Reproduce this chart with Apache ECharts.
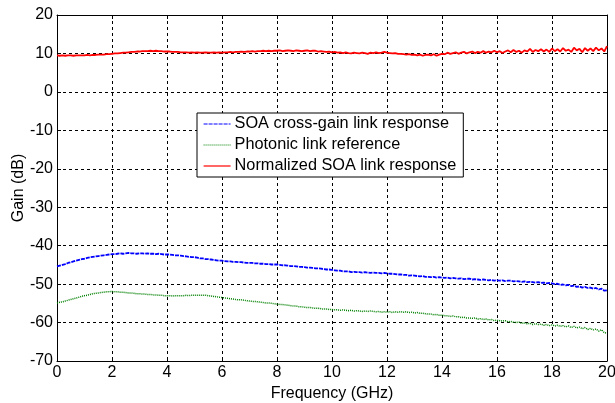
<!DOCTYPE html>
<html>
<head>
<meta charset="utf-8">
<script src="https://cdn.jsdelivr.net/npm/echarts@6/dist/echarts.min.js"></script>
<style>
html,body{margin:0;padding:0;background:#fff;}
#chart{width:615px;height:403px;}
</style>
</head>
<body>
<div id="chart"></div>
<script>
// Sampling grid: 0 to 20 GHz, 0.1 GHz step (201 samples per series)
const freqStart = 0, freqStep = 0.1, freqCount = 201;

const seriesNames = ['SOA cross-gain link response', 'Photonic link reference', 'Normalized SOA link response'];

const xTicks = [0, 2, 4, 6, 8, 10, 12, 14, 16, 18, 20];
const yTicks = [-70, -60, -50, -40, -30, -20, -10, 0, 10, 20];

const soaCrossGain = [
-45.4,-45.2,-45.0,-44.8,-44.5,-44.3,-44.1,-43.9,-43.7,-43.5,
-43.4,-43.2,-43.0,-42.9,-42.8,-42.7,-42.6,-42.5,-42.4,-42.3,
-42.2,-42.2,-42.1,-42.0,-42.1,-42.0,-41.9,-42.0,-42.0,-42.1,
-42.0,-42.0,-42.1,-42.0,-42.1,-42.1,-42.2,-42.1,-42.2,-42.3,
-42.3,-42.3,-42.4,-42.5,-42.5,-42.6,-42.7,-42.8,-42.9,-43.0,
-43.0,-43.1,-43.3,-43.3,-43.5,-43.5,-43.6,-43.7,-43.8,-43.9,
-43.9,-44.0,-44.1,-44.1,-44.2,-44.2,-44.3,-44.3,-44.4,-44.5,
-44.5,-44.5,-44.6,-44.6,-44.7,-44.7,-44.8,-44.8,-44.9,-44.9,
-44.9,-45.0,-45.1,-45.1,-45.2,-45.3,-45.3,-45.4,-45.5,-45.5,
-45.6,-45.7,-45.7,-45.8,-45.9,-45.9,-46.0,-46.1,-46.2,-46.2,
-46.3,-46.4,-46.5,-46.5,-46.7,-46.7,-46.7,-46.9,-46.8,-46.9,
-46.9,-47.0,-46.9,-47.0,-47.1,-47.0,-47.1,-47.1,-47.2,-47.1,
-47.2,-47.3,-47.3,-47.4,-47.5,-47.5,-47.6,-47.6,-47.8,-47.7,
-47.8,-47.9,-48.0,-47.9,-48.1,-48.1,-48.2,-48.1,-48.3,-48.2,
-48.3,-48.4,-48.3,-48.5,-48.4,-48.5,-48.6,-48.5,-48.7,-48.6,
-48.6,-48.8,-48.7,-48.8,-48.9,-48.8,-48.9,-49.0,-48.9,-49.1,
-49.0,-49.1,-49.0,-49.2,-49.1,-49.1,-49.3,-49.2,-49.3,-49.4,
-49.3,-49.5,-49.4,-49.5,-49.6,-49.5,-49.7,-49.6,-49.8,-49.7,
-49.8,-50.0,-49.9,-50.2,-50.1,-50.3,-50.2,-50.5,-50.4,-50.7,
-50.6,-50.9,-50.7,-51.0,-50.9,-51.2,-51.0,-51.4,-51.2,-51.7,
-51.6
];

const photonicReference = [
-54.9,-54.7,-54.6,-54.4,-54.2,-54.0,-53.8,-53.6,-53.4,-53.2,
-53.0,-52.9,-52.7,-52.5,-52.4,-52.3,-52.2,-52.1,-52.0,-52.0,
-51.9,-52.0,-52.0,-52.1,-52.1,-52.2,-52.3,-52.3,-52.4,-52.5,
-52.5,-52.6,-52.6,-52.7,-52.7,-52.8,-52.8,-52.9,-52.9,-53.0,
-53.0,-53.0,-53.1,-53.0,-53.0,-53.0,-53.0,-52.9,-53.0,-52.9,
-52.9,-52.9,-52.9,-52.9,-52.9,-53.0,-53.1,-53.2,-53.3,-53.4,
-53.5,-53.6,-53.7,-53.8,-53.9,-54.0,-54.1,-54.1,-54.2,-54.3,
-54.4,-54.5,-54.5,-54.6,-54.7,-54.8,-54.9,-54.9,-55.0,-55.1,
-55.2,-55.3,-55.3,-55.4,-55.5,-55.6,-55.7,-55.7,-55.9,-55.9,
-56.0,-56.1,-56.1,-56.2,-56.3,-56.3,-56.4,-56.5,-56.5,-56.6,
-56.6,-56.7,-56.7,-56.8,-56.7,-56.8,-56.9,-56.8,-57.0,-56.9,
-57.0,-57.1,-57.0,-57.1,-57.0,-57.1,-57.2,-57.1,-57.3,-57.2,
-57.3,-57.2,-57.4,-57.2,-57.3,-57.2,-57.3,-57.2,-57.4,-57.3,
-57.5,-57.4,-57.6,-57.6,-57.7,-57.8,-57.8,-58.0,-57.9,-58.1,
-58.1,-58.2,-58.2,-58.4,-58.3,-58.5,-58.5,-58.7,-58.6,-58.8,
-58.8,-58.9,-58.8,-59.1,-59.0,-59.2,-59.1,-59.3,-59.2,-59.5,
-59.4,-59.5,-59.6,-59.5,-59.8,-59.7,-59.9,-60.0,-59.9,-60.2,
-60.1,-60.3,-60.2,-60.5,-60.3,-60.5,-60.4,-60.7,-60.5,-60.8,
-60.6,-60.9,-60.7,-61.0,-60.8,-61.1,-60.9,-61.3,-61.0,-61.4,
-61.2,-61.6,-61.3,-61.8,-61.5,-61.9,-61.7,-62.2,-61.9,-62.6,
-62.8
];

const normalizedSoa = [
9.5,9.4,9.5,9.4,9.5,9.5,9.4,9.5,9.5,9.5,
9.5,9.6,9.5,9.6,9.6,9.7,9.7,9.7,9.8,9.8,
9.9,10.0,10.0,10.1,10.2,10.2,10.3,10.4,10.4,10.5,
10.5,10.6,10.6,10.6,10.7,10.6,10.7,10.6,10.6,10.5,
10.5,10.5,10.4,10.4,10.4,10.3,10.3,10.3,10.2,10.3,
10.2,10.3,10.2,10.2,10.3,10.2,10.2,10.3,10.2,10.3,
10.2,10.3,10.3,10.4,10.3,10.4,10.4,10.5,10.4,10.5,
10.5,10.6,10.5,10.6,10.6,10.7,10.6,10.7,10.6,10.7,
10.7,10.8,10.6,10.7,10.8,10.7,10.6,10.8,10.7,10.6,
10.7,10.8,10.6,10.7,10.7,10.5,10.6,10.5,10.4,10.5,
10.3,10.4,10.2,10.3,10.1,10.3,10.1,10.0,10.2,10.1,
10.0,10.2,10.1,9.9,10.2,10.1,10.3,10.1,10.2,10.4,
10.2,10.1,10.0,10.1,9.9,9.9,9.8,9.7,9.8,9.6,
9.7,9.5,9.7,9.4,9.6,9.7,9.5,9.8,9.4,9.7,
9.9,9.8,10.2,9.9,10.1,10.3,9.9,10.2,10.4,10.0,
10.3,10.5,10.1,10.4,10.2,10.6,10.2,10.5,10.3,10.7,
10.3,10.6,10.1,10.5,10.8,10.3,10.9,10.4,10.7,10.2,
10.8,10.5,11.2,10.4,10.9,10.6,11.1,10.5,11.0,10.4,
11.3,10.6,11.1,10.5,11.4,10.7,11.0,10.4,11.5,10.8,
11.2,10.3,11.4,10.7,11.3,10.6,11.5,10.8,11.3,10.5,
11.9
];

function pairs(values) {
  return values.map((v, i) => [+(freqStart + i * freqStep).toFixed(2), v]);
}

const FONT = 'Liberation Sans, Arial, Helvetica, sans-serif';
const chart = echarts.init(document.getElementById('chart'), null, {renderer: 'canvas'});

const frameLine = {show: true, onZero: false, lineStyle: {color: '#000', width: 1}};
const gridDash = {show: true, lineStyle: {color: '#000', type: [3, 3], width: 1}};
const tickIn = {show: true, inside: true, length: 4, lineStyle: {color: '#000'}};

chart.setOption({
  animation: false,
  backgroundColor: '#fff',
  grid: {left: 57, right: 8, top: 15, bottom: 42, containLabel: false, outerBoundsMode: 'none'},
  legend: {
    orient: 'vertical',
    left: 197, top: 113,
    backgroundColor: '#fff',
    borderColor: '#000', borderWidth: 1,
    padding: [3, 7, 3, 6],
    itemWidth: 27, itemHeight: 14, itemGap: 5,
    itemStyle: {opacity: 0, borderWidth: 0},
    lineStyle: {width: 1.2},
    textStyle: {fontFamily: FONT, fontSize: 16.3, color: '#000', padding: [0, 0, 0, -1]},
    data: seriesNames
  },
  xAxis: [{
    type: 'value', min: 0, max: 20, interval: 2,
    name: 'Frequency (GHz)', nameLocation: 'middle', nameGap: 25, nameMoveOverlap: false,
    nameTextStyle: {fontFamily: FONT, fontSize: 16, color: '#000'},
    axisLine: frameLine, axisTick: tickIn,
    axisLabel: {fontFamily: FONT, fontSize: 16, color: '#000', margin: 4,
      formatter: v => xTicks.includes(v) ? String(v) : ''},
    splitLine: gridDash
  }, {
    type: 'value', min: 0, max: 20, interval: 2, position: 'top',
    axisLine: frameLine, axisTick: tickIn,
    axisLabel: {show: false}, splitLine: {show: false}
  }],
  yAxis: [{
    type: 'value', min: -70, max: 20, interval: 10,
    name: 'Gain (dB)', nameLocation: 'middle', nameGap: 30, nameRotate: 90, nameMoveOverlap: false,
    nameTextStyle: {fontFamily: FONT, fontSize: 16, color: '#000'},
    axisLine: frameLine, axisTick: tickIn,
    axisLabel: {fontFamily: FONT, fontSize: 16, color: '#000', margin: 4,
      formatter: v => yTicks.includes(v) ? String(v) : ''},
    splitLine: gridDash
  }, {
    type: 'value', min: -70, max: 20, interval: 10, position: 'right',
    axisLine: frameLine, axisTick: tickIn,
    axisLabel: {show: false}, splitLine: {show: false}
  }],
  series: [{
    name: seriesNames[0], type: 'line', symbol: 'none', xAxisIndex: 0, yAxisIndex: 0,
    data: pairs(soaCrossGain), color: '#0000ff',
    lineStyle: {color: '#0000ff', width: 1.8, type: [4, 1]}
  }, {
    name: seriesNames[1], type: 'line', symbol: 'none', xAxisIndex: 0, yAxisIndex: 0,
    data: pairs(photonicReference), color: '#008000',
    lineStyle: {color: '#008000', width: 1.5, type: [1, 1]}
  }, {
    name: seriesNames[2], type: 'line', symbol: 'none', xAxisIndex: 0, yAxisIndex: 0,
    data: pairs(normalizedSoa), color: '#ff0000',
    lineStyle: {color: '#ff0000', width: 1.8, type: 'solid'}
  }]
});
</script>
</body>
</html>
